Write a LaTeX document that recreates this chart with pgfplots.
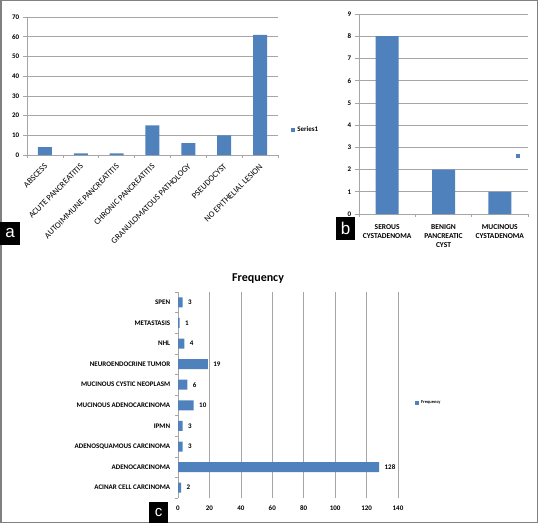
\documentclass[border=0pt]{standalone}
\usepackage{pgfplots}
\pgfplotsset{compat=1.18}
\usepackage{fontspec}
\setmainfont{Carlito}
\newfontfamily\tagfont{Liberation Sans}
\definecolor{barblue}{HTML}{4F81BD}
\definecolor{gridgray}{HTML}{A6A6A6}

\pgfplotsset{
  xllegend/.style={legend image code/.code={\fill[barblue] (0pt,-2pt) rectangle (4pt,2pt);}},
  ybar legend/.style={xllegend},
  xbar legend/.style={xllegend},
  xlchart/.style={
    scale only axis, anchor=south west,
    axis line style={gridgray}, tick style={gridgray, line width=0.6pt},
    grid style={gridgray, line width=0.6pt},
    tick align=outside,
    /pgf/number format/assume math mode=true,
    tick label style={font=\fontsize{7}{7}\selectfont\bfseries},
    legend style={draw=none, fill=none, inner sep=0pt, anchor=west,
      font=\fontsize{7}{7}\selectfont\bfseries},
  },
}

\begin{document}
\begin{tikzpicture}
\useasboundingbox (0pt,0pt) rectangle (538pt,523pt);
\draw[gray, line width=1.5pt] (0.75pt,0.75pt) rectangle (537.25pt,522.25pt);

% panel a
\begin{axis}[xlchart, at={(27pt,368pt)}, width=251pt, height=138pt,
    ybar, bar width=14pt,
    xmin=-0.5, xmax=6.5, ymin=0, ymax=70, ytick={0,10,...,70},
    xtick=data, major x tick style={draw=none},
    minor xtick={-0.5,0.5,...,6.5},
    xticklabels={ABSCESS, ACUTE PANCREATITIS, AUTOIMMUNE PANCREATITIS,
      CHRONIC PANCREATITIS, GRANULOMATOUS PATHOLOGY, PSEUDOCYST,
      NO EPITHELIAL LESION},
    x tick label style={rotate=45, anchor=east, yshift=-5pt,
      font=\fontsize{8.5}{8.5}\selectfont},
    axis x line*=bottom, axis y line*=left, ymajorgrids,
    legend style={at={(1.052,0.181)}},
  ]
  \addplot[fill=barblue, draw=none] coordinates {
    (0,4) (1,0.8) (2,0.8) (3,15) (4,6) (5,10) (6,61)};
  \addlegendentry{Series1}
\end{axis}

% panel b
\begin{axis}[xlchart, at={(359pt,309pt)}, width=169pt, height=200pt,
    ybar, bar width=23pt,
    xmin=-0.5, xmax=2.5, ymin=0, ymax=9, ytick={0,1,...,9},
    xtick=data, major x tick style={draw=none},
    minor xtick={-0.5,0.5,...,2.5},
    xticklabels={SEROUS\\CYSTADENOMA, BENIGN\\PANCREATIC\\CYST,
      MUCINOUS\\CYSTADENOMA},
    x tick label style={align=center, yshift=-3pt,
      font=\fontsize{7.5}{9}\selectfont\bfseries},
    axis x line*=bottom, axis y line*=left, ymajorgrids,
    legend style={at={(0.929,0.29)}},
  ]
  \addplot[fill=barblue, draw=none] coordinates {(0,8) (1,2) (2,1)};
  \addlegendentry{}
\end{axis}

% panel c
\begin{axis}[xlchart, at={(178pt,25pt)}, width=220pt, height=206pt,
    xbar, bar width=10pt,
    xmin=0, xmax=140, xtick={0,20,...,140},
    ymin=-0.5, ymax=9.5, ytick=data, major y tick style={draw=none},
    minor ytick={-0.5,0.5,...,9.5},
    major x tick style={draw=none},
    yticklabels={ACINAR CELL CARCINOMA, ADENOCARCINOMA, ADENOSQUAMOUS CARCINOMA,
      IPMN, MUCINOUS ADENOCARCINOMA, MUCINOUS CYSTIC NEOPLASM,
      NEUROENDOCRINE TUMOR, NHL, METASTASIS, SPEN},
    axis x line*=bottom, axis y line*=left,
    x axis line style={draw=none},
    xmajorgrids,
    nodes near coords,
    every node near coord/.append style={font=\fontsize{7}{7}\selectfont\bfseries,
      anchor=west, xshift=2pt},
    title={Frequency},
    every axis title shift=0pt,
    title style={at={(0.364,1.065)}, anchor=center, yshift=0pt,
      font=\fontsize{12}{13}\selectfont\bfseries},
    legend style={at={(1.077,0.461)}, font=\fontsize{4.5}{5}\selectfont\bfseries},
  ]
  \addplot[fill=barblue, draw=none] coordinates {
    (2,0) (128,1) (3,2) (3,3) (10,4) (6,5) (19,6) (4,7) (1,8) (3,9)};
  \addlegendentry{Frequency}
\end{axis}

% panel tags
\node[fill=black, text=white, inner sep=0pt, minimum width=20pt, minimum height=23pt,
  font=\tagfont\fontsize{17}{17}\selectfont] at (10pt,289.5pt) {a};
\node[fill=black, text=white, inner sep=0pt, minimum width=19pt, minimum height=23pt,
  font=\tagfont\fontsize{17}{17}\selectfont] at (345.5pt,294.5pt) {b};
\node[fill=black, text=white, inner sep=0pt, minimum width=19pt, minimum height=21pt,
  font=\tagfont\fontsize{15}{15}\selectfont] at (158.5pt,10.5pt) {c};
\end{tikzpicture}
\end{document}
